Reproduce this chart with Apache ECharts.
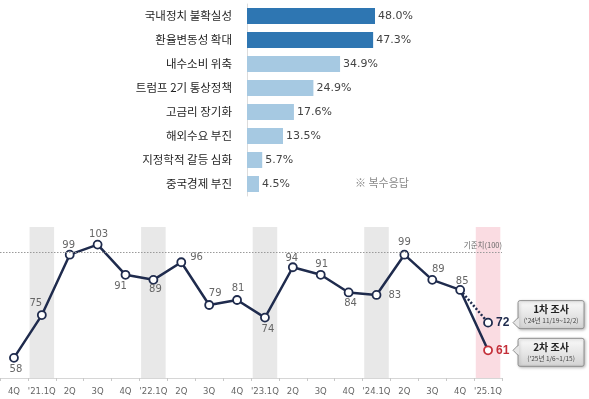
<!DOCTYPE html>
<html>
<head>
<meta charset="utf-8">
<script src="https://cdn.jsdelivr.net/npm/echarts@6/dist/echarts.min.js"></script>
<style>
  html, body { margin: 0; padding: 0; background: #fff; }
  #chart { width: 589px; height: 399px; }
</style>
</head>
<body>
<div id="chart"></div>
<script>
// 애로요인 (복수응답, %)
const factors = ['국내정치 불확실성', '환율변동성 확대', '내수소비 위축', '트럼프 2기 통상정책',
  '고금리 장기화', '해외수요 부진', '지정학적 갈등 심화', '중국경제 부진'];
const factorShares = [48.0, 47.3, 34.9, 24.9, 17.6, 13.5, 5.7, 4.5];

// 분기별 BSI
const quarters = ['4Q', "'21.1Q", '2Q', '3Q', '4Q', "'22.1Q", '2Q', '3Q', '4Q', "'23.1Q",
  '2Q', '3Q', '4Q', "'24.1Q", '2Q', '3Q', '4Q', "'25.1Q"];
const bsiValues = [58, 75, 99, 103, 91, 89, 96, 79, 81, 74, 94, 91, 84, 83, 99, 89, 85, 61];
const firstSurvey = 72;          // '25.1Q 1차 조사
const baseline = 100;            // 기준치
const shadedQuarters = ["'21.1Q", "'22.1Q", "'23.1Q", "'24.1Q", "'25.1Q"];
const surveyNotes = [
  { title: '1차 조사', period: "('24년 11/19~12/2)" },
  { title: '2차 조사', period: "('25년 1/6~1/15)" }
];

const navy = '#1f2b4d';
const red = '#c4303a';
const numFont = 'DejaVu Sans';
const krFont = '"Noto Sans CJK KR", sans-serif';
const lastIdx = quarters.length - 1;

// label placement for each point: [position, dx, dy]
const labelSpots = [
  ['bottom', 2, 1], ['top', -6, -1], ['top', -1, 2], ['top', 1, 1], ['bottom', -5, 1],
  ['bottom', 2, -1], ['right', 3, -5], ['top', 6, -1], ['top', 1, -1], ['bottom', 3, 1],
  ['top', -1, 2], ['top', 1, 0], ['bottom', 2, 0], ['right', 6, 0], ['top', 0, -1],
  ['top', 6, 0], ['top', 2, 2], ['right', 2, 0]
];

const bandData = quarters.map((q, i) => {
  if (!shadedQuarters.includes(q)) return '-';
  return {
    value: 110,
    itemStyle: { color: i === lastIdx ? '#fadce2' : '#e8e8e8' }
  };
});

const mainData = bsiValues.map((v, i) => {
  const [pos, dx, dy] = labelSpots[i];
  const item = {
    value: v,
    label: { position: pos, offset: [dx, dy] }
  };
  if (i === lastIdx) {
    item.itemStyle = { borderColor: red };
    item.label = {
      position: 'right', distance: 3, offset: [0, 0],
      color: red, fontWeight: 'bold', fontSize: 12, fontFamily: 'Liberation Sans'
    };
  }
  return item;
});

const firstData = quarters.map((q, i) => {
  if (i === lastIdx - 1) return { value: bsiValues[i], symbol: 'none', label: { show: false } };
  if (i === lastIdx) return firstSurvey;
  return null;
});

const option = {
  animation: false,
  grid: [
    { left: 247, top: 4, width: 160, height: 192 },
    { left: 0, top: 227, width: 502, height: 151 }
  ],
  xAxis: [
    { gridIndex: 0, type: 'value', min: 0, max: 60, show: false },
    {
      gridIndex: 1, type: 'category', data: quarters,
      axisLine: { lineStyle: { color: '#d6d6d6', width: 1 } },
      axisTick: { show: true, length: 3, interval: 0, lineStyle: { color: '#c8c8c8' } },
      axisLabel: { interval: 0, color: '#666', fontSize: 8.5, fontFamily: numFont, margin: 9 }
    }
  ],
  yAxis: [
    {
      gridIndex: 0, type: 'category', data: factors, inverse: true,
      axisLine: { lineStyle: { color: '#dcdcdc' } },
      axisTick: { show: false },
      axisLabel: { color: '#1e1e1e', fontSize: 11.5, fontFamily: krFont, margin: 15 }
    },
    {
      gridIndex: 1, type: 'value', min: 50, max: 110, show: false
    }
  ],
  series: [
    {
      type: 'bar', xAxisIndex: 0, yAxisIndex: 0,
      barWidth: 16,
      data: factorShares.map((v, i) => ({
        value: v,
        itemStyle: { color: i < 2 ? '#2e76b2' : '#a6c9e2' }
      })),
      label: {
        show: true, position: 'right', distance: 3,
        formatter: p => p.value.toFixed(1) + '%',
        color: '#444', fontSize: 11, fontFamily: numFont
      }
    },
    {
      type: 'bar', xAxisIndex: 1, yAxisIndex: 1,
      barWidth: '88%', silent: true, z: 1,
      data: bandData
    },
    {
      type: 'line', xAxisIndex: 1, yAxisIndex: 1, z: 4,
      data: mainData,
      symbol: 'circle', symbolSize: 8,
      lineStyle: { color: navy, width: 2.5 },
      itemStyle: { color: '#fff', borderColor: navy, borderWidth: 1.8 },
      label: {
        show: true, distance: 1,
        color: '#666', fontSize: 10, fontFamily: numFont
      },
      markLine: {
        silent: true, symbol: 'none',
        lineStyle: { color: '#9a9a9a', type: [1.5, 1.5], width: 1 },
        label: {
          position: 'insideEndTop', formatter: '기준치(100)',
          color: '#666', fontSize: 7.5, fontFamily: krFont, distance: [0, 3]
        },
        data: [{ yAxis: baseline }]
      }
    },
    {
      type: 'line', xAxisIndex: 1, yAxisIndex: 1, z: 3,
      data: firstData,
      symbol: 'circle', symbolSize: 8,
      lineStyle: { color: navy, width: 2.5, type: [2, 2] },
      itemStyle: { color: '#fff', borderColor: navy, borderWidth: 1.8 },
      label: {
        show: true, position: 'right', distance: 3,
        color: navy, fontSize: 12, fontWeight: 'bold', fontFamily: 'Liberation Sans'
      }
    }
  ],
  graphic: [
    {
      type: 'text', left: 355, top: 177,
      style: { text: '※ 복수응답', fill: '#888', fontSize: 11, fontFamily: krFont }
    }
  ]
};

const chart = echarts.init(document.getElementById('chart'));
chart.setOption(option);

// 조사 시점 말풍선
const makeCallout = (px, py, top, note) => {
  const bx = px + 30, w = 66, h = 28;
  return {
    type: 'group',
    children: [
      {
        type: 'rect',
        shape: { x: bx, y: top, width: w, height: h, r: 2 },
        style: {
          fill: new echarts.graphic.LinearGradient(0, 0, 0, 1, [
            { offset: 0, color: '#fbfbfb' }, { offset: 1, color: '#d2d2d2' }
          ]),
          stroke: '#8e8e8e', lineWidth: 1,
          shadowBlur: 3, shadowColor: 'rgba(0,0,0,0.25)', shadowOffsetX: 1, shadowOffsetY: 1
        }
      },
      {
        type: 'polygon',
        shape: { points: [[bx + 1, py - 5], [bx - 5, py], [bx + 1, py + 5]] },
        style: { fill: '#e6e6e6' }
      },
      {
        type: 'polyline',
        shape: { points: [[bx, py - 5], [bx - 5, py], [bx, py + 5]] },
        style: { stroke: '#8e8e8e', fill: null, lineWidth: 1 }
      },
      {
        type: 'text',
        style: {
          x: bx + w / 2, y: top + 9, text: note.title, align: 'center', verticalAlign: 'middle',
          fill: '#222', fontSize: 10, fontWeight: 'bold', fontFamily: krFont
        }
      },
      {
        type: 'text',
        style: {
          x: bx + w / 2, y: top + 20, text: note.period, align: 'center', verticalAlign: 'middle',
          fill: '#444', fontSize: 6.5, fontFamily: krFont
        }
      }
    ]
  };
};

const p1 = chart.convertToPixel({ gridIndex: 1 }, [lastIdx, firstSurvey]);
const p2 = chart.convertToPixel({ gridIndex: 1 }, [lastIdx, bsiValues[lastIdx]]);
chart.setOption({
  graphic: [
    option.graphic[0],
    makeCallout(p1[0], p1[1], p1[1] - 22, surveyNotes[0]),
    makeCallout(p2[0], p2[1], p2[1] - 12, surveyNotes[1])
  ]
});
</script>
</body>
</html>
